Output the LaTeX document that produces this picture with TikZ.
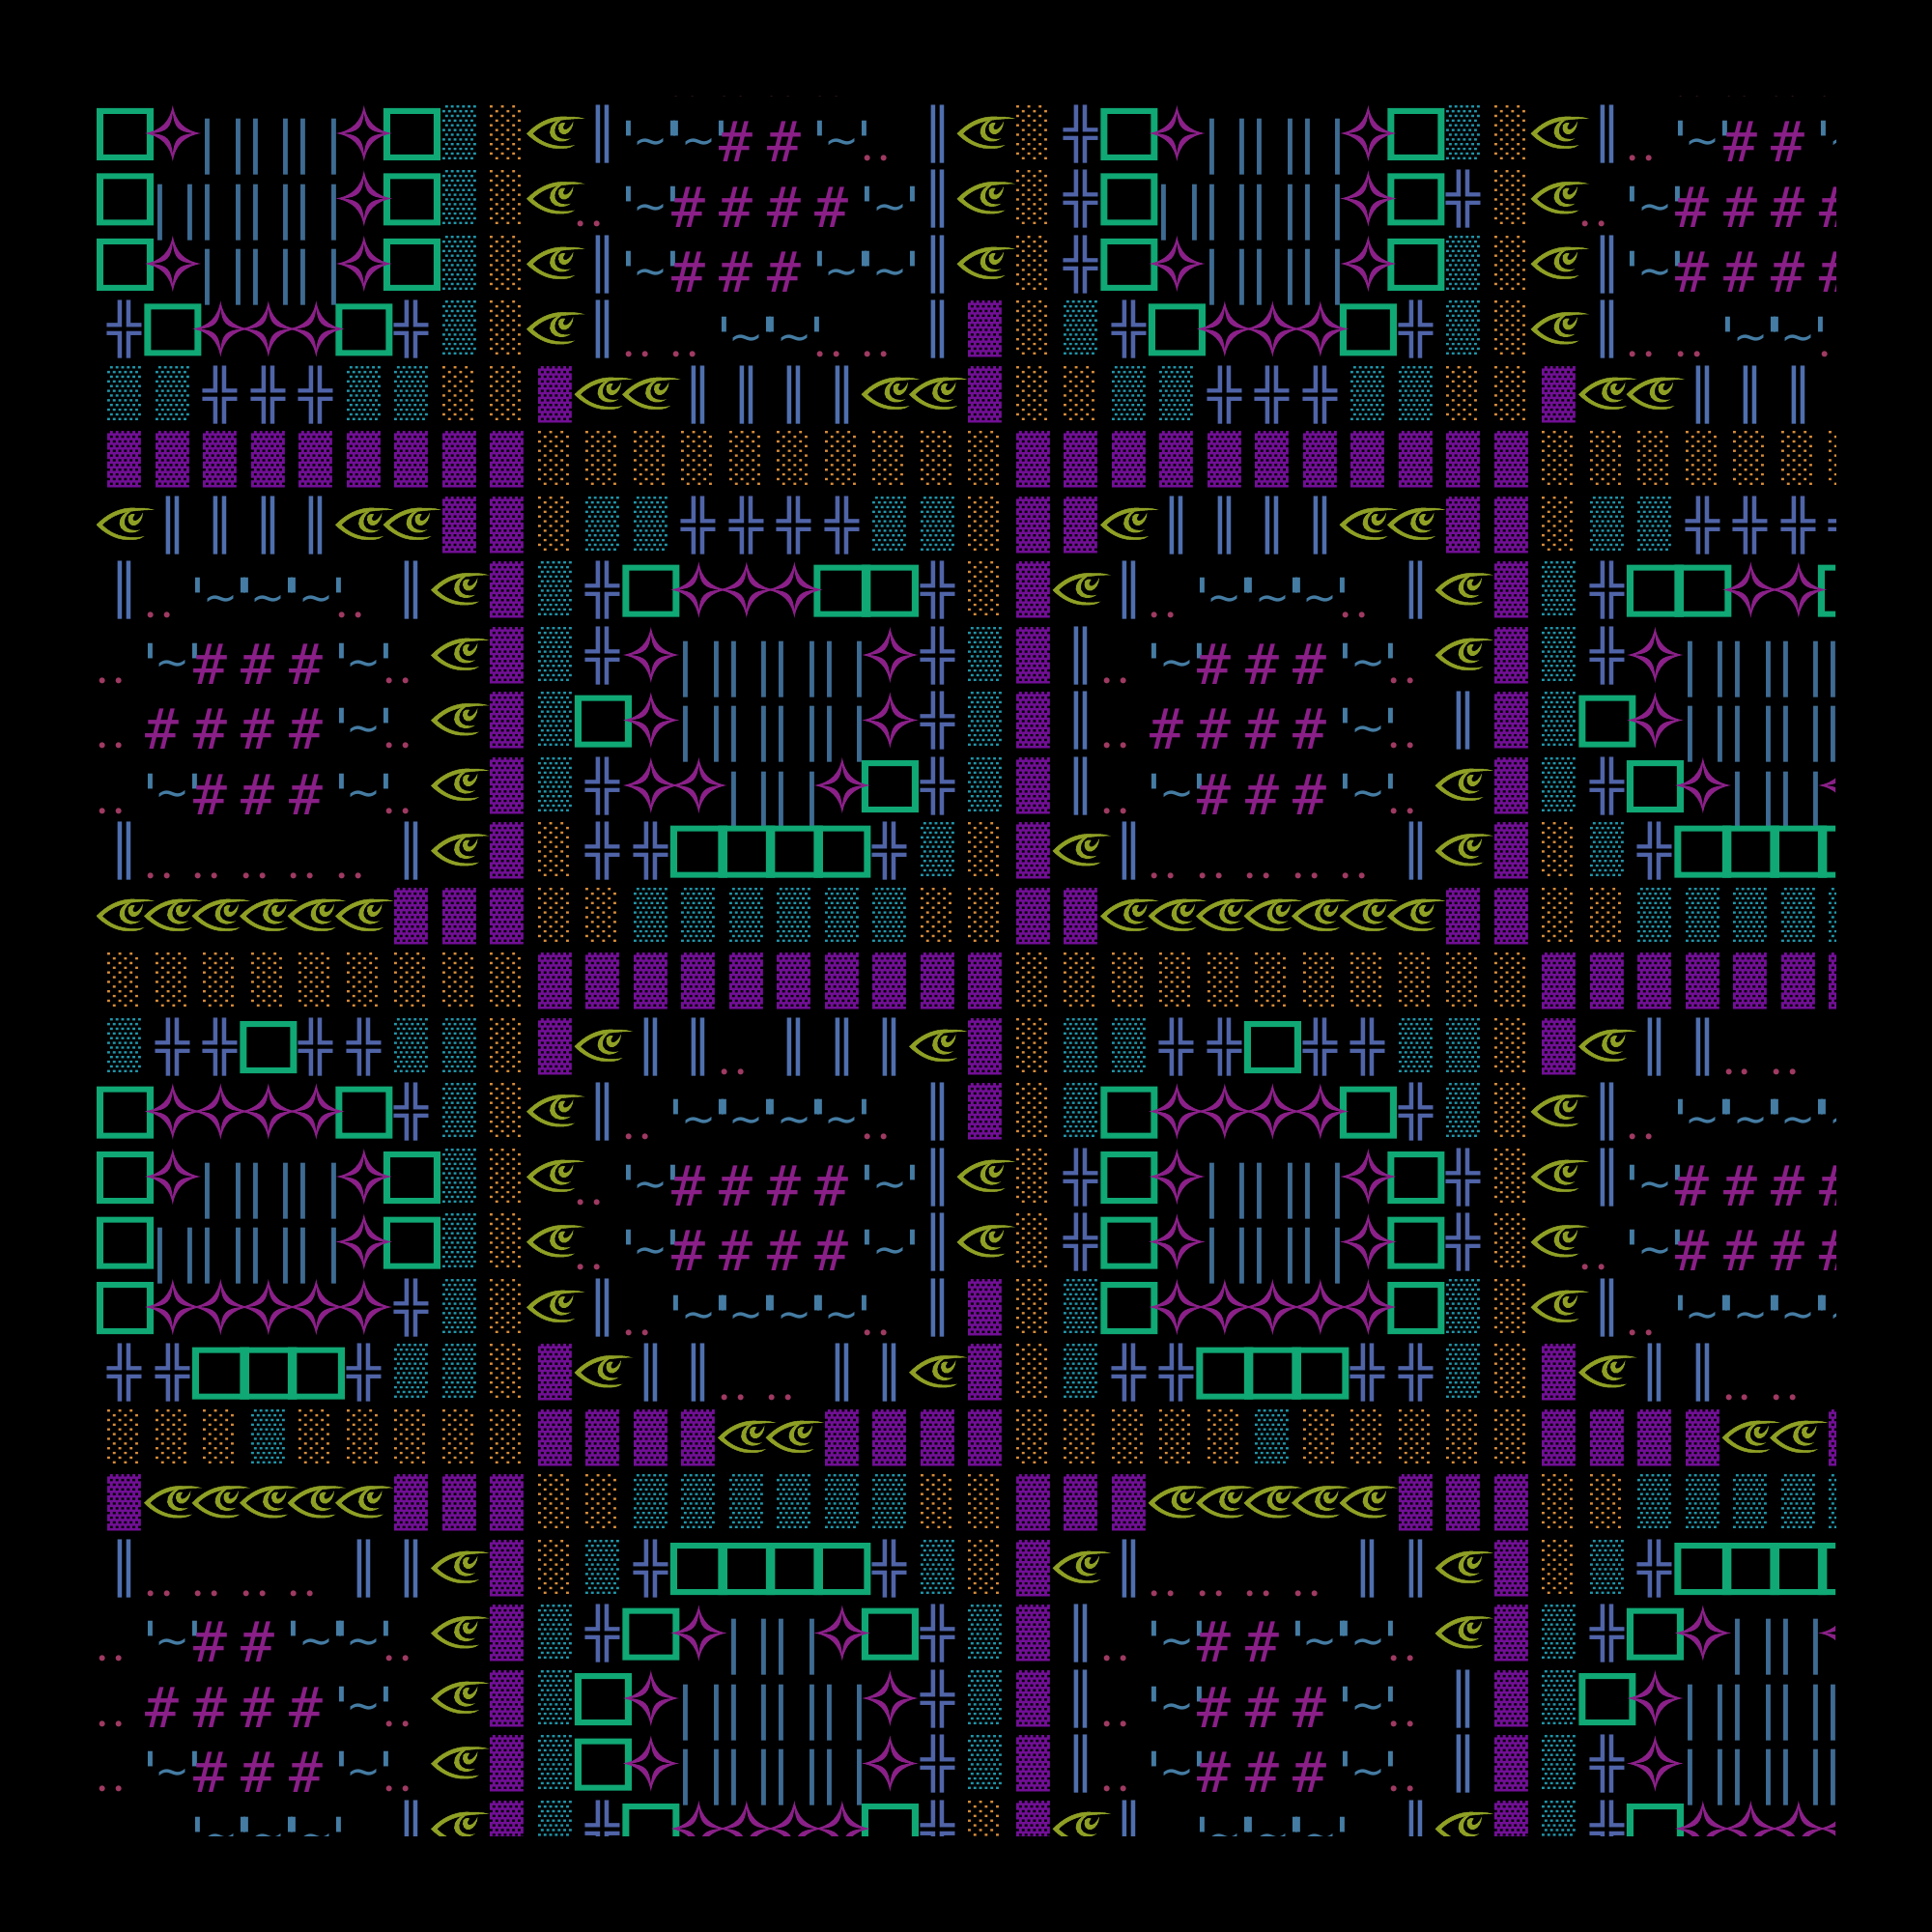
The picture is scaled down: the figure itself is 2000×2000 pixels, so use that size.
\documentclass[tikz,border=0pt]{standalone}
\usepackage{fontspec}
\newfontfamily\monof{DejaVu Sans Mono}
\newfontfamily\sansf{DejaVu Sans}
\newfontfamily\dotf{Lato}
\newfontfamily\libm{Liberation Mono}
\definecolor{cG}{HTML}{10A874}
\definecolor{cS}{HTML}{8A2088}
\definecolor{cT}{HTML}{3E6B92}
\definecolor{cV}{HTML}{4F6FAE}
\definecolor{cH}{HTML}{5064A8}
\definecolor{cD}{HTML}{2096AA}
\definecolor{cO}{HTML}{D88C38}
\definecolor{cP}{HTML}{720F96}
\definecolor{cE}{HTML}{8FA025}
\definecolor{cA}{HTML}{457CA3}
\definecolor{cN}{HTML}{8A1F88}
\definecolor{cC}{HTML}{9F3A62}
\tikzset{gly/.style={anchor=base,inner sep=0pt,outer sep=0pt,font=\monof\fontsize{29pt}{29pt}\selectfont},
shd/.style={anchor=base,inner sep=0pt,outer sep=0pt,font=\libm\fontsize{29pt}{29pt}\selectfont},
dotgly/.style={anchor=base,inner sep=0pt,outer sep=0pt,font=\dotf\fontsize{24pt}{24pt}\selectfont}}
\newcommand\sq[1]{\scalebox{1}[.874]{#1}}
\newcommand\sh[1]{\scalebox{1}[.89]{#1}}
\newcommand\cellG{\fill[cG,even odd rule] (-29.5,3) rectangle (29.5,57) (-22.5,9) rectangle (22.5,51);}
\newcommand\cellS{\fill[cS,even odd rule,shift={(0,29)}]
 (0,-29) .. controls (3,-12) and (12,-3) .. (29,0) .. controls (12,3) and (3,12) .. (0,29)
 .. controls (-3,12) and (-12,3) .. (-29,0) .. controls (-12,-3) and (-3,-12) .. (0,-29) -- cycle
 (0,-22) .. controls (1.3,-6) and (6,-1.3) .. (22,0) .. controls (6,1.3) and (1.3,6) .. (0,22)
 .. controls (-1.3,6) and (-6,1.3) .. (-22,0) .. controls (-6,-1.3) and (-1.3,-6) .. (0,-22) -- cycle;}
\newcommand\cellT{\node[gly,text=cT] (t\r-\i) at (2.5,59) {|\kern-1.7pt|};}
\newcommand\cellH{\node[gly,text=cH] (h\r-\i) at (0,47.2) {\sq{╬}};}
\newcommand\cellV{\node[gly,text=cV] (v\r-\i) at (0,47.2) {\sq{║}};}
\newcommand\cellD{\node[shd,text=cD] (d\r-\i) at (0,43.3) {\sh{▒}};}
\newcommand\cellO{\node[shd,text=cO] (o\r-\i) at (0,43.3) {\sh{░}};}
\newcommand\cellP{\node[shd,text=cP] (p\r-\i) at (0,43.3) {\sh{▓}};}
\newcommand\cellA{\node[gly,text=cA] (a\r-\i) at (0,59) {\char"27\kern-6.08pt\raisebox{3.7pt}{\sansf\fontsize{21.5pt}{21.5pt}\selectfont\char"7E}\kern-6.08pt\char"27};}
\newcommand\cellN{\node[gly,text=cN] (n\r-\i) at (-10.7,59) {\#};}
\newcommand\cellC{\node[dotgly,text=cC] (c\r-\i) at (-14.3,58) {.\kern2.7pt.};}
\newcommand\cellB{}
\newcommand\cellE{\begin{scope}[shift={(-34.67,1)},scale=.3333]
\filldraw[cE,line width=.25pt] (16,85) .. controls (45,55) and (85,30) .. (135,33) .. controls (155,33) and (175,33) .. (190,38)
 .. controls (165,38) and (150,40) .. (130,42) .. controls (90,45) and (55,62) .. (33,85)
 .. controls (55,108) and (85,122) .. (120,124) .. controls (135,125) and (150,124) .. (160,122)
 .. controls (150,130) and (130,132) .. (110,131) .. controls (75,130) and (40,110) .. (16,85) -- cycle;
\fill[cE] (112,44) .. controls (90,55) and (80,80) .. (92,95) .. controls (105,112) and (130,115) .. (152,100)
 .. controls (130,105) and (110,100) .. (104,85) .. controls (100,70) and (105,55) .. (122,44) -- cycle;
\fill[cE] (115,58) .. controls (110,75) and (120,90) .. (135,87) .. controls (150,82) and (160,65) .. (160,47)
 .. controls (152,65) and (140,75) .. (132,72) .. controls (125,68) and (130,58) .. (135,52) .. controls (125,50) and (118,52) .. (115,58) -- cycle;
\end{scope}}
\newcommand\putrow[2]{\def\r{#1}\foreach \c [count=\i from 0] in {#2}{%
 \begin{scope}[shift={(129.3+49.5*\i,109+67.5*\r)}]\csname cell\c\endcsname\end{scope}}}
\newcommand\allrows{%
\putrow{-1}{B,B,B,B,B,B,B,B,B,B,B,B,C,C,C,C,B,B,B,B,B,B,B,B,B,B,B,B,B,B,B,B,B,C,C,C,C}
\putrow{0}{G,S,T,T,T,S,G,D,O,E,V,A,A,N,N,A,C,V,E,O,H,G,S,T,T,T,S,G,D,O,E,V,C,A,N,N,A}
\putrow{1}{G,T,T,T,T,S,G,D,O,E,C,A,N,N,N,N,A,V,E,O,H,G,T,T,T,T,S,G,H,O,E,C,A,N,N,N,N}
\putrow{2}{G,S,T,T,T,S,G,D,O,E,V,A,N,N,N,A,A,V,E,O,H,G,S,T,T,T,S,G,D,O,E,V,A,N,N,N,N}
\putrow{3}{H,G,S,S,S,G,H,D,O,E,V,C,C,A,A,C,C,V,P,O,D,H,G,S,S,S,G,H,D,O,E,V,C,C,A,A,C}
\putrow{4}{D,D,H,H,H,D,D,O,O,P,E,E,V,V,V,V,E,E,P,O,O,D,D,H,H,H,D,D,O,O,P,E,E,V,V,V,V}
\putrow{5}{P,P,P,P,P,P,P,P,P,O,O,O,O,O,O,O,O,O,O,P,P,P,P,P,P,P,P,P,P,P,O,O,O,O,O,O,O}
\putrow{6}{E,V,V,V,V,E,E,P,P,O,D,D,H,H,H,H,D,D,O,P,P,E,V,V,V,V,E,E,P,P,O,D,D,H,H,H,H}
\putrow{7}{V,C,A,A,A,C,V,E,P,D,H,G,S,S,S,G,G,H,O,P,E,V,C,A,A,A,C,V,E,P,D,H,G,G,S,S,G}
\putrow{8}{C,A,N,N,N,A,C,E,P,D,H,S,T,T,T,T,S,H,D,P,V,C,A,N,N,N,A,C,E,P,D,H,S,T,T,T,T}
\putrow{9}{C,N,N,N,N,A,C,E,P,D,G,S,T,T,T,T,S,H,D,P,V,C,N,N,N,N,A,C,V,P,D,G,S,T,T,T,T}
\putrow{10}{C,A,N,N,N,A,C,E,P,D,H,S,S,T,T,S,G,H,D,P,V,C,A,N,N,N,A,C,E,P,D,H,G,S,T,T,S}
\putrow{11}{V,C,C,C,C,C,V,E,P,O,H,H,G,G,G,G,H,D,O,P,E,V,C,C,C,C,C,V,E,P,O,D,H,G,G,G,G}
\putrow{12}{E,E,E,E,E,E,P,P,P,O,O,D,D,D,D,D,D,O,O,P,P,E,E,E,E,E,E,E,P,P,O,O,D,D,D,D,D}
\putrow{13}{O,O,O,O,O,O,O,O,O,P,P,P,P,P,P,P,P,P,P,O,O,O,O,O,O,O,O,O,O,O,P,P,P,P,P,P,P}
\putrow{14}{D,H,H,G,H,H,D,D,O,P,E,V,V,C,V,V,V,E,P,O,D,D,H,H,G,H,H,D,D,O,P,E,V,V,C,C,B}
\putrow{15}{G,S,S,S,S,G,H,D,O,E,V,C,A,A,A,A,C,V,P,O,D,G,S,S,S,S,G,H,D,O,E,V,C,A,A,A,A}
\putrow{16}{G,S,T,T,T,S,G,D,O,E,C,A,N,N,N,N,A,V,E,O,H,G,S,T,T,T,S,G,H,O,E,V,A,N,N,N,N}
\putrow{17}{G,T,T,T,T,S,G,D,O,E,C,A,N,N,N,N,A,V,E,O,H,G,S,T,T,T,S,G,H,O,E,C,A,N,N,N,N}
\putrow{18}{G,S,S,S,S,S,H,D,O,E,V,C,A,A,A,A,C,V,P,O,D,G,S,S,S,S,S,G,D,O,E,V,C,A,A,A,A}
\putrow{19}{H,H,G,G,G,H,D,D,O,P,E,V,V,C,C,V,V,E,P,O,D,H,H,G,G,G,H,H,D,O,P,E,V,V,C,C,B}
\putrow{20}{O,O,O,D,O,O,O,O,O,P,P,P,P,E,E,P,P,P,P,O,O,O,O,O,D,O,O,O,O,O,P,P,P,P,E,E,P}
\putrow{21}{P,E,E,E,E,E,P,P,P,O,O,D,D,D,D,D,D,O,O,P,P,P,E,E,E,E,E,P,P,P,O,O,D,D,D,D,D}
\putrow{22}{V,C,C,C,C,V,V,E,P,O,D,H,G,G,G,G,H,D,O,P,E,V,C,C,C,C,V,V,E,P,O,D,H,G,G,G,G}
\putrow{23}{C,A,N,N,A,A,C,E,P,D,H,G,S,T,T,S,G,H,D,P,V,C,A,N,N,A,A,C,E,P,D,H,G,S,T,T,S}
\putrow{24}{C,N,N,N,N,A,C,E,P,D,G,S,T,T,T,T,S,H,D,P,V,C,A,N,N,N,A,C,V,P,D,G,S,T,T,T,T}
\putrow{25}{C,A,N,N,N,A,C,E,P,D,G,S,T,T,T,T,S,H,D,P,V,C,A,N,N,N,A,C,V,P,D,H,S,T,T,T,T}
\putrow{26}{B,B,A,A,A,B,V,E,P,D,H,G,S,S,S,S,G,H,O,P,E,V,B,A,A,A,B,V,E,P,D,H,G,S,S,S,S}}
\begin{document}
\begin{tikzpicture}[x=0.5pt,y=-0.5pt]
\useasboundingbox (0,0) rectangle (2000,2000);
\fill[black] (0,0) rectangle (2000,2000);
\clip (100,100) rectangle (1900,1900);
\let\cellSreal\cellS
\let\cellS\cellB
\allrows
\let\cellS\cellSreal
\let\cellG\cellB \let\cellT\cellB \let\cellH\cellB \let\cellV\cellB \let\cellD\cellB \let\cellO\cellB
\let\cellP\cellB \let\cellA\cellB \let\cellN\cellB \let\cellC\cellB \let\cellE\cellB
\allrows
\end{tikzpicture}
\end{document}
